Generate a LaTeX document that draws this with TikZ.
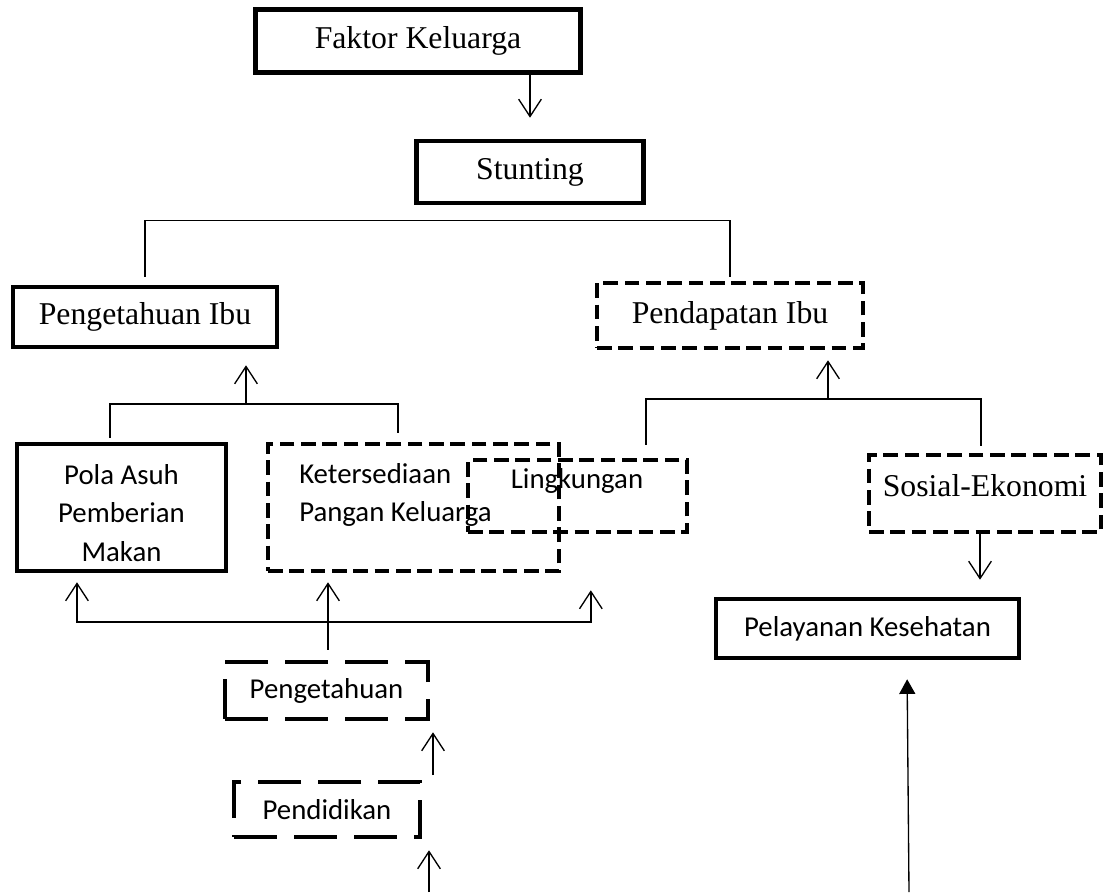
\documentclass[tikz,border=0pt]{standalone}
\usepackage{fontspec}
\setmainfont{Liberation Serif}
\newfontfamily\calibri{Carlito}
\usetikzlibrary{arrows.meta}

\begin{document}
\begin{tikzpicture}[x=0.75pt, y=-0.75pt,
	box/.style={draw=black, line width=3.4pt, inner sep=0pt, font=\fontsize{23.8}{29}\selectfont},
	sbox/.style={box, align=center, font=\calibri\fontsize{21.6}{29}\selectfont},
	dbox/.style={box, dash pattern=on 11pt off 5pt},
	ldbox/.style={sbox, dash pattern=on 32pt off 13pt},
	txt/.style={inner sep=0pt, align=left, font=\calibri\fontsize{21.6}{29}\selectfont},
	ln/.style={draw=black, line width=1pt},
	arr/.style={-{Straight Barb[length=13pt, width=17pt]}},
	tri/.style={-{Triangle[length=11pt, width=12pt]}}]
		\useasboundingbox (0,0) rectangle (1106,892);
		\node[box, minimum width=243.75pt, minimum height=47.25pt] (fk) at (418,41){Faktor Keluarga};
		\node[box, minimum width=170.25pt, minimum height=46.5pt] (st) at (530,172){Stunting};
		\node[box, minimum width=198pt, minimum height=45pt] (pi) at (145,317){Pengetahuan Ibu};
		\node[dbox, minimum width=199.5pt, minimum height=48.75pt] (pd) at (730,315.5){Pendapatan Ibu};
		\node[sbox, minimum width=156.75pt, minimum height=95.25pt] (pa) at (121.5,507.5){};
		\node[txt, align=center] (pat) at (121.5,513){Pola Asuh\\Pemberian\\Makan};
		\node[dbox, minimum width=218.25pt, minimum height=95.25pt] (kp) at (413.5,507.5){};
		\node[txt, anchor=west] (kpt) at (299,495){Ketersediaan\\Pangan Keluarga};
		\node[dbox, minimum width=164.25pt, minimum height=54pt] (lk) at (577.5,496){};
		\node[txt] (lkt) at (577,481){Lingkungan};
		\node[dbox, minimum width=174pt, minimum height=57.75pt] (se) at (985,493.5){};
		\node[inner sep=0pt, font=\fontsize{23.8}{29}\selectfont] (set) at (985,486){Sosial-Ekonomi};
		\node[sbox, minimum width=227.25pt, minimum height=44.25pt] (pk) at (867.5,628.5){Pelayanan Kesehatan};
		\node[ldbox, minimum width=152.25pt, minimum height=42.75pt] (pg) at (326.5,690.5){Pengetahuan};
		\node[ldbox, minimum width=139.5pt, minimum height=41.25pt] (pn) at (327,809.5){Pendidikan};
		
		\coordinate (pibar) at (246,404);
		\coordinate (pdbar) at (828,399);
		\coordinate (pgbar) at (328,622);
		\coordinate (a1) at (433,775);
		\coordinate (a2) at (429,892);
		\coordinate (a3) at (909,892);
		
		\draw[ln, arr, shorten >=15.75pt] (fk.south -| st.north) -- (st.north);
		\draw[ln] ([yshift=6pt]pi.north) -- ++(0,-56) -| ([yshift=3pt]pd.north);
		\draw[ln, arr, shorten >=12pt] (pibar) -- (pibar |- pi.south);
		\draw[ln] ([xshift=-8.6pt, yshift=3pt]pa.north) |- (pibar) -| ([xshift=-11.6pt, yshift=6.75pt]kp.north);
		\draw[ln, arr, shorten >=7.5pt] (pdbar) -- (pdbar |- pd.south);
		\draw[ln] ([xshift=51.4pt, yshift=9.75pt]lk.north) |- (pdbar) -| ([xshift=-3pt, yshift=5.25pt]se.north);
		\draw[ln, arr, shorten >=12.75pt] ([xshift=-3.75pt]se.south) -- ([xshift=-3.75pt]se.south |- pk.north);
		\draw[ln, arr, shorten >=6.75pt] ([yshift=7.5pt]pgbar |- pg.north) -- (pgbar) -- (pgbar |- kp.south);
		\draw[ln, arr, shorten >=6.75pt] (pgbar) -| ([xshift=-33.4pt]pa.south);
		\draw[ln, arr, shorten >=42pt] (pgbar) -| ([xshift=10pt]lk.south);
		\draw[ln, arr, shorten >=8.25pt] (a1) -- (a1 |- pg.south);
		\draw[ln, arr, shorten >=8.25pt] (a2) -- (a2 |- pn.south);
		\draw[ln, tri, shorten >=14.25pt] (a3) -- ([xshift=29.6pt]pk.south);
\end{tikzpicture}
\end{document}
